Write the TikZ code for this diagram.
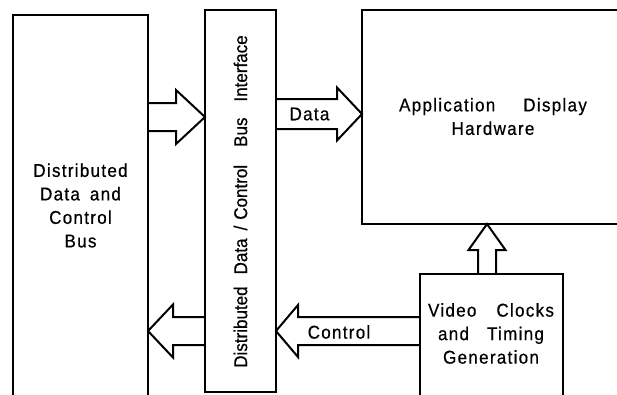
\documentclass[tikz,border=0pt]{standalone}
\usepackage{fontspec}
\setmainfont{Liberation Sans}
\newfontfamily\spaced[LetterSpace=7,FakeStretch=0.92,FakeBold=0.5]{Liberation Sans}
\newfontfamily\plainv[FakeStretch=0.92,FakeBold=0.5]{Liberation Sans}
\usetikzlibrary{calc}
\tikzset{
  box/.style={draw, line width=2.2pt, anchor=north west, inner sep=0pt, outer sep=0pt},
  barrow/.style={draw, line width=2pt, line join=miter},
  lbl/.style={font=\spaced\fontsize{18.5}{23.5}\selectfont, align=center, inner sep=0pt},
  vlbl/.style={font=\plainv\fontsize{18.5}{20}\selectfont, rotate=90, inner sep=0pt}
}
% #1 from, #2 to, #3 shaft half width, #4 head half width, #5 head length
\newcommand{\blockarrow}[5]{%
  \draw[barrow] ($(#1)!#3pt!90:(#2)$)
    -- ($(#2)!#5pt!(#1)!#3pt!90:(#2)$)
    -- ($(#2)!#5pt!(#1)!#4pt!90:(#2)$)
    -- (#2)
    -- ($(#2)!#5pt!(#1)!#4pt!-90:(#2)$)
    -- ($(#2)!#5pt!(#1)!#3pt!-90:(#2)$)
    -- ($(#1)!#3pt!-90:(#2)$);}
\begin{document}
\begin{tikzpicture}[x=1pt,y=-1pt]
\useasboundingbox (0,0) rectangle (617,394);
\clip (0,0) rectangle (617,394);
% boxes
\node[box, minimum width=135pt, minimum height=420pt] (bus) at (13,15) {};
\node[box, minimum width=71pt, minimum height=382pt] (iface) at (205,10) {};
\node[box, minimum width=300pt, minimum height=214pt] (app) at (362,10) {};
\node[box, minimum width=143pt, minimum height=150pt] (video) at (420,274) {};
% labels
\node[lbl] (busl) at (80.5,205.5) {Distributed\\Data\hspace{10pt}and\\Control\\Bus};
\node[vlbl] (ifl) at (240.5,201.5) {Distributed\hspace{12pt}Data\hspace{8pt}/\hspace{6pt}Control\hspace{18pt}Bus\hspace{16pt}Interface};
\node[lbl] (appl) at (493,116.5) {Application\hspace{28pt}Display\\Hardware};
\node[lbl] (vidl) at (491,333.5) {Video\hspace{20pt}Clocks\\and\hspace{18pt}Timing\\Generation};
\node[lbl] (datal) at (309.5,114) {Data};
\node[lbl] (ctrll) at (339,332) {Control};
% arrow end points
\coordinate (a1s) at (bus.east |- 0,117);
\coordinate (a1e) at (iface.west |- 0,117);
\coordinate (a2s) at (iface.east |- 0,114);
\coordinate (a2e) at (app.west |- 0,114);
\coordinate (a3s) at (video.west |- 0,331);
\coordinate (a3e) at (iface.east |- 0,331);
\coordinate (a4s) at (iface.west |- 0,331);
\coordinate (a4e) at (bus.east |- 0,331);
\coordinate (a5s) at (video.north -| 487,0);
\coordinate (a5e) at (app.south -| 487,0);
% block arrows
\blockarrow{a1s}{a1e}{14}{27}{29}
\blockarrow{a2s}{a2e}{15}{26.5}{25}
\blockarrow{a3s}{a3e}{14}{26}{22}
\blockarrow{a4s}{a4e}{14}{26.5}{25}
\blockarrow{a5s}{a5e}{9}{18.5}{26}
\end{tikzpicture}
\end{document}
